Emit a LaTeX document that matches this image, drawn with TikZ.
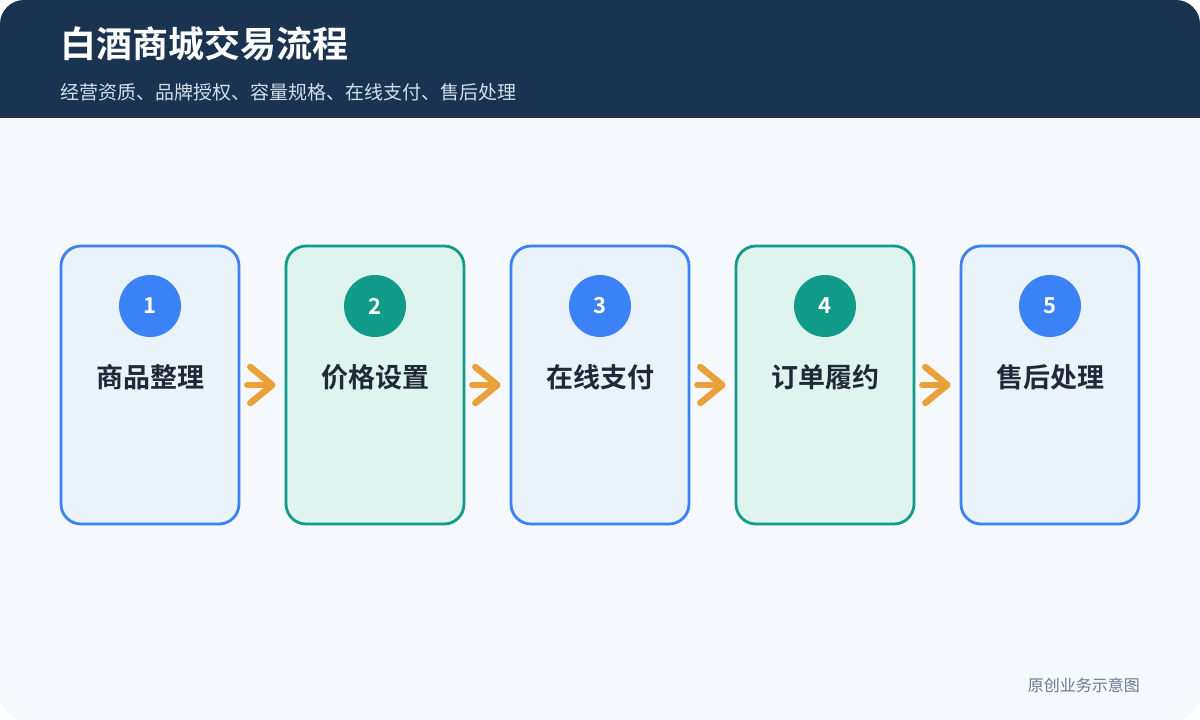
\documentclass[tikz,border=0pt]{standalone}
\usepackage{fontspec}
\usepackage{xcolor}
\setmainfont{Noto Sans CJK SC}
\newfontfamily\cjkbold{Noto Sans CJK SC Bold}
\usetikzlibrary{arrows.meta, positioning}

\definecolor{headnavy}{HTML}{1A3350}
\definecolor{pagebg}{HTML}{F5F8FD}
\definecolor{subgray}{HTML}{D3DEEB}
\definecolor{stepblue}{HTML}{3B82F6}
\definecolor{fillblue}{HTML}{EAF2FA}
\definecolor{stepgreen}{HTML}{109C89}
\definecolor{fillgreen}{HTML}{DFF3EF}
\definecolor{labeldark}{HTML}{1F2937}
\definecolor{flowornge}{HTML}{EBA13A}
\definecolor{notegray}{HTML}{6B7A90}

\begin{document}
\begin{tikzpicture}[
        x=1pt, y=-1pt,
        stepcard/.style={draw, line width=2.8pt, rounded corners=20pt,
            minimum width=178pt, minimum height=278pt},
        bluecard/.style={stepcard, draw=stepblue, fill=fillblue},
        greencard/.style={stepcard, draw=stepgreen, fill=fillgreen},
        badge/.style={circle, minimum size=62pt, inner sep=0pt,
            text=white, font=\cjkbold\fontsize{22}{22}\selectfont},
        steplabel/.style={text=labeldark, font=\cjkbold\fontsize{27}{27}\selectfont},
        flow/.style={draw=flowornge, line width=6.5pt, line cap=round,
            -{Straight Barb[length=22pt, width=36pt, round]}}
    ]

    % Card background and header band
    \fill[white] (0,0) rectangle (1200,720);
    \fill[pagebg, rounded corners=24pt] (0,0) rectangle (1200,720);
    \begin{scope}
        \clip[rounded corners=24pt] (0,0) rectangle (1200,720);
        \fill[headnavy] (0,0) rectangle (1200,118);
    \end{scope}

    % Title texts
    \node[anchor=west, inner sep=0pt, text=white,
        font=\cjkbold\fontsize{36}{36}\selectfont] (title) at (60,44) {白酒商城交易流程};
    \node[anchor=west, inner sep=0pt, text=subgray,
        font=\fontsize{19}{19}\selectfont] (subtitle) at (60,92)
        {经营资质、品牌授权、容量规格、在线支付、售后处理};

    % Step cards
    \node[bluecard] (s1) at (150,385) {};
    \node[greencard] (s2) at (375,385) {};
    \node[bluecard] (s3) at (600,385) {};
    \node[greencard] (s4) at (825,385) {};
    \node[bluecard] (s5) at (1050,385) {};

    % Number badges
    \node[badge, fill=stepblue] (n1) at (150,306) {1};
    \node[badge, fill=stepgreen] (n2) at (375,306) {2};
    \node[badge, fill=stepblue] (n3) at (600,306) {3};
    \node[badge, fill=stepgreen] (n4) at (825,306) {4};
    \node[badge, fill=stepblue] (n5) at (1050,306) {5};

    % Step labels
    \node[steplabel] (l1) at (150,377) {商品整理};
    \node[steplabel] (l2) at (375,377) {价格设置};
    \node[steplabel] (l3) at (600,377) {在线支付};
    \node[steplabel] (l4) at (825,377) {订单履约};
    \node[steplabel] (l5) at (1050,377) {售后处理};

    % Arrows between cards
    \draw[flow] ([xshift=7pt]s1.east) -- ([xshift=-9pt]s2.west);
    \draw[flow] ([xshift=7pt]s2.east) -- ([xshift=-9pt]s3.west);
    \draw[flow] ([xshift=7pt]s3.east) -- ([xshift=-9pt]s4.west);
    \draw[flow] ([xshift=7pt]s4.east) -- ([xshift=-9pt]s5.west);

    % Footer note
    \node[anchor=east, inner sep=0pt, text=notegray,
        font=\fontsize{16}{16}\selectfont] (note) at (1140,685) {原创业务示意图};

\end{tikzpicture}
\end{document}
